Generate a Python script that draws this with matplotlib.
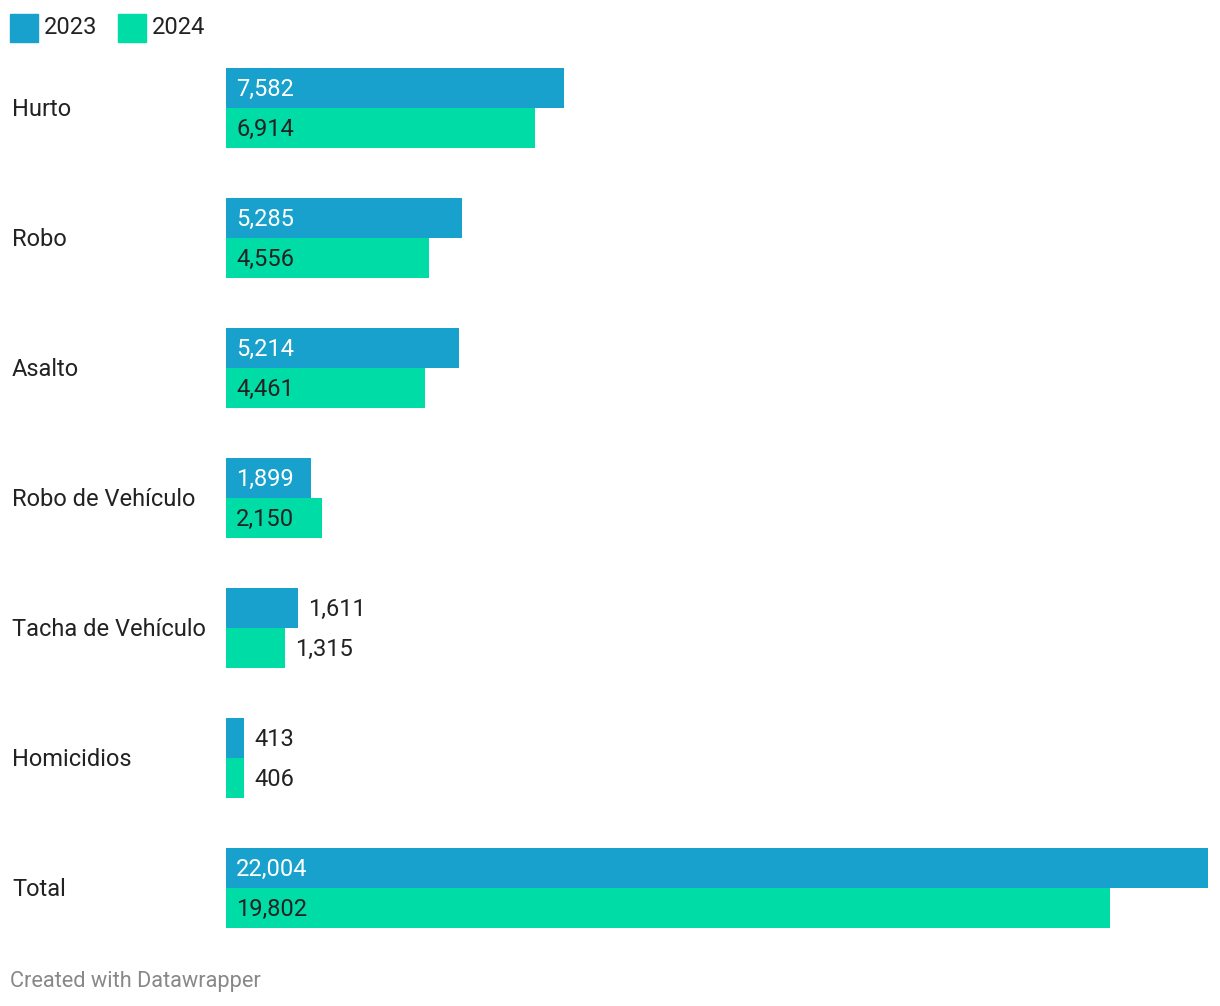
import matplotlib.pyplot as plt
import numpy as np

categories = ["Hurto", "Robo", "Asalto", "Robo de Vehículo", "Tacha de Vehículo", "Homicidios", "Total"]
values_2023 = [7582, 5285, 5214, 1899, 1611, 413, 22004]
values_2024 = [6914, 4556, 4461, 2150, 1315, 406, 19802]
series = ["2023", "2024"]

plt.rcParams['font.family'] = ['Roboto', 'DejaVu Sans']

W, H = 1220, 1006
fig = plt.figure(figsize=(W / 100, H / 100), dpi=100)

c23 = "#18a1cd"
c24 = "#00dca6"
dark = "#222222"

# axes placed in pixel terms: bars from x=226 to 1208, y=68 to 928
left, right, top, bottom = 226, 1208, 68, 928
ax = fig.add_axes([left / W, 1 - bottom / H, (right - left) / W, (bottom - top) / H])
ax.set_xlim(0, max(values_2023))
h = 40 / 130
ax.set_ylim(len(categories) - 1 + h, -h)
ax.axis("off")

y = np.arange(len(categories))
ax.barh(y - h / 2, values_2023, height=h, color=c23)
ax.barh(y + h / 2, values_2024, height=h, color=c24)

xper = max(values_2023) / (right - left)  # data units per pixel
yper = 1 / 130
for i in range(len(categories)):
    for v, off, col, txtcol in [(values_2023[i], -h / 2, c23, "white"), (values_2024[i], h / 2, c24, dark)]:
        lab = f"{v:,}"
        if v >= 1800:
            ax.text(10 * xper, i + off + 1.5 * yper, lab, va="center", ha="left", fontsize=17, color=txtcol)
        else:
            ax.text(v + 10 * xper, i + off + 1.5 * yper, lab, va="center", ha="left", fontsize=17, color=dark)
    fig.text(12 / W, 1 - (110 + 130 * i) / H, categories[i], va="center", ha="left", fontsize=17, color=dark)

# legend
for k, (name, col) in enumerate(zip(series, [c23, c24])):
    x0 = 10 + k * 108
    fig.patches.append(plt.Rectangle((x0 / W, 1 - 42 / H), 28 / W, 28 / H, transform=fig.transFigure, color=col))
    fig.text((x0 + 34) / W, 1 - 27 / H, name, va="center", ha="left", fontsize=17, color=dark)

fig.text(10 / W, 1 - 981 / H, "Created with Datawrapper", va="center", ha="left", fontsize=15.7, color="#888888")

fig.savefig("out.png", dpi=100, facecolor="white")
